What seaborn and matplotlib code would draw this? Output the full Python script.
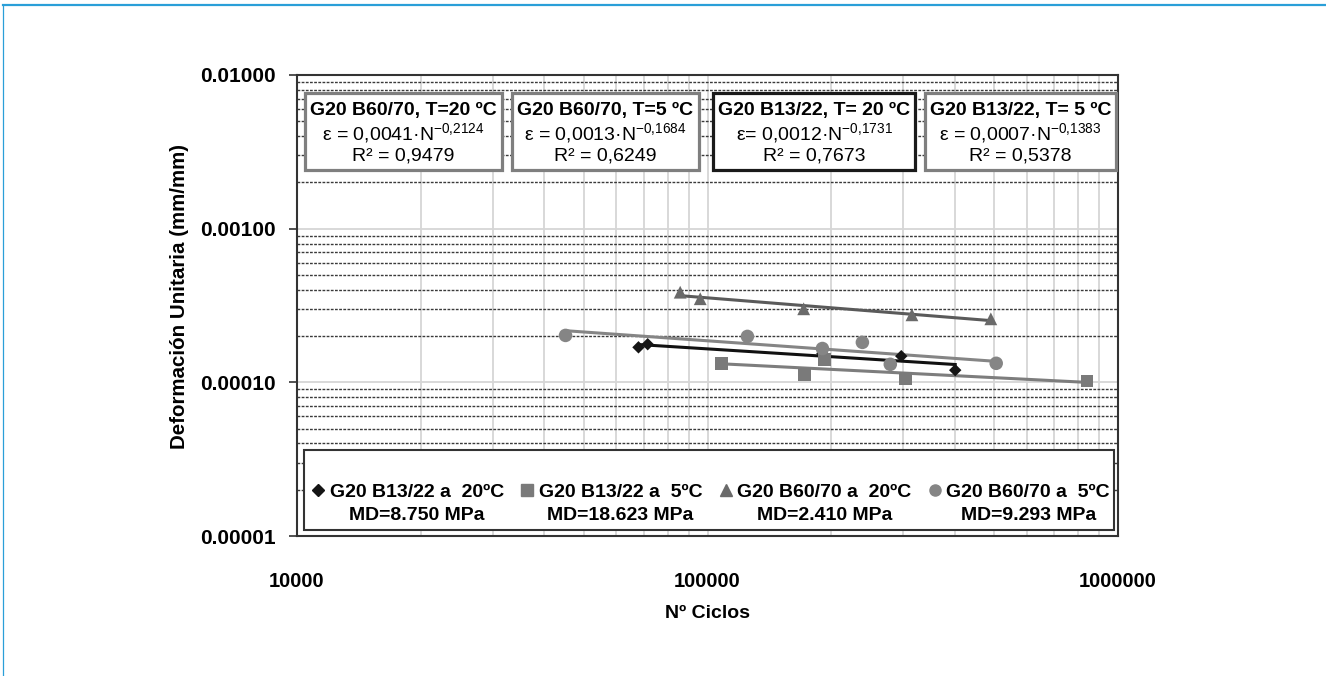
import numpy as np
import pandas as pd
import seaborn as sns
import matplotlib.pyplot as plt
from matplotlib.patches import Rectangle
from matplotlib.lines import Line2D
from matplotlib.ticker import FuncFormatter, LogLocator, NullFormatter, FixedLocator

plt.rcParams['font.family'] = ['Liberation Sans', 'DejaVu Sans']
plt.rcParams['mathtext.fontset'] = 'custom'
plt.rcParams['mathtext.rm'] = 'Liberation Sans'
plt.rcParams['mathtext.it'] = 'Liberation Sans:italic'
plt.rcParams['mathtext.bf'] = 'Liberation Sans:bold'

# values
series = ['G20 B13/22 a  20ºC', 'G20 B13/22 a  5ºC', 'G20 B60/70 a  20ºC', 'G20 B60/70 a  5ºC']
md_labels = ['MD=8.750 MPa', 'MD=18.623 MPa', 'MD=2.410 MPa', 'MD=9.293 MPa']

b1322_20_n = [67900, 71500, 190500, 296500, 401300]
b1322_20_e = [0.000169, 0.000177, 0.000154, 0.000148, 0.000120]
b1322_5_n = [108200, 172200, 192600, 303300, 840500]
b1322_5_e = [0.000133, 0.000113, 0.000141, 0.000106, 0.000102]
b6070_20_n = [85800, 96000, 171500, 314800, 490000]
b6070_20_e = [0.000386, 0.000350, 0.000301, 0.000275, 0.000259]
b6070_5_n = [45100, 125100, 190500, 238400, 278800, 505000]
b6070_5_e = [0.000202, 0.000199, 0.000166, 0.000182, 0.000131, 0.000133]

box_titles = ['G20 B60/70, T=20 ºC', 'G20 B60/70, T=5 ºC', 'G20 B13/22, T= 20 ºC', 'G20 B13/22, T= 5 ºC']
box_coef = ['ε = 0,0041·', 'ε = 0,0013·', 'ε= 0,0012·', 'ε = 0,0007·']
box_exp = ['-0{,}2124', '-0{,}1684', '-0{,}1731', '-0{,}1383']
box_r2 = ['R² = 0,9479', 'R² = 0,6249', 'R² = 0,7673', 'R² = 0,5378']

rows = []
for name, ns, es in zip(series, [b1322_20_n, b1322_5_n, b6070_20_n, b6070_5_n],
                        [b1322_20_e, b1322_5_e, b6070_20_e, b6070_5_e]):
    for n, e in zip(ns, es):
        rows.append({'serie': name, 'N': n, 'eps': e})
df = pd.DataFrame(rows)

marker_col = {series[0]: '#151515', series[1]: '#7a7a7a', series[2]: '#6a6a6a', series[3]: '#858585'}
line_col = {series[0]: '#111111', series[1]: '#7d7d7d', series[2]: '#5a5a5a', series[3]: '#858585'}
markers = {series[0]: 'D', series[1]: 's', series[2]: '^', series[3]: 'o'}
sizes = {series[0]: 40, series[1]: 85, series[2]: 85, series[3]: 95}

W, H = 1326, 676
fig = plt.figure(figsize=(W / 100, H / 100), dpi=100)
ax = fig.add_axes([297 / W, 1 - 536 / H, (1118 - 297) / W, (536 - 75) / H])
ax.set_xscale('log')
ax.set_yscale('log')

# power trend lines (least squares in log-log)
for name in series:
    d = df[df.serie == name]
    c = np.polyfit(np.log10(d.N), np.log10(d.eps), 1)
    xs = np.geomspace(d.N.min(), d.N.max(), 40)
    sns.lineplot(x=xs, y=10 ** np.polyval(c, np.log10(xs)), ax=ax, color=line_col[name],
                 lw=2.2, zorder=3, legend=False)

for name in series:
    d = df[df.serie == name]
    sns.scatterplot(data=d, x='N', y='eps', ax=ax, marker=markers[name], color=marker_col[name],
                    s=sizes[name], edgecolor='none', zorder=4, legend=False)

ax.set_xlim(1e4, 1e6)
ax.set_ylim(1e-5, 1e-2)
ax.xaxis.set_major_locator(FixedLocator([1e4, 1e5, 1e6]))
ax.yaxis.set_major_locator(FixedLocator([1e-5, 1e-4, 1e-3, 1e-2]))
ax.xaxis.set_minor_locator(LogLocator(base=10, subs=np.arange(2, 10), numticks=20))
ax.yaxis.set_minor_locator(LogLocator(base=10, subs=np.arange(2, 10), numticks=20))
ax.xaxis.set_minor_formatter(NullFormatter())
ax.yaxis.set_minor_formatter(NullFormatter())
ax.xaxis.set_major_formatter(FuncFormatter(lambda v, p: f'{v:.0f}'))
ax.yaxis.set_major_formatter(FuncFormatter(lambda v, p: f'{v:.5f}'))

ax.grid(which='major', axis='both', color='#d6d6d6', lw=1.3)
ax.grid(which='minor', axis='x', color='#d6d6d6', lw=1.3)
ax.grid(which='minor', axis='y', color='#3a3a3a', lw=1.0, linestyle=(0, (2, 1)))
ax.set_axisbelow(True)
for s in ax.spines.values():
    s.set_color('#333333')
    s.set_linewidth(1.5)
ax.tick_params(which='minor', length=0)
ax.tick_params(axis='x', which='major', length=0, pad=26, labelsize=14.5)
ax.tick_params(axis='y', which='major', length=6, width=1.2, color='#333333', pad=9, labelsize=15)
for lab in ax.get_xticklabels() + ax.get_yticklabels():
    lab.set_fontweight('bold')

ax.set_xlabel('Nº Ciclos', fontsize=14, fontweight='bold', labelpad=10)
ax.set_ylabel('Deformación Unitaria (mm/mm)', fontsize=14.8, fontweight='bold')
ax.yaxis.set_label_coords(-0.131, 0.52)

# equation boxes
box_x = [(305, 502), (512, 699), (713, 915), (925, 1116)]
box_edge = ['#7f7f7f', '#7f7f7f', '#1a1a1a', '#7f7f7f']
for (x0, x1), ec, t1, cf, ex, r2 in zip(box_x, box_edge, box_titles, box_coef, box_exp, box_r2):
    fig.add_artist(Rectangle((x0 / W, 1 - 170 / H), (x1 - x0) / W, 77 / H, transform=fig.transFigure,
                             facecolor='white', edgecolor=ec, lw=2.3, zorder=5))
    cx = (x0 + x1) / 2 / W
    fig.text(cx, 1 - 110 / H, t1, ha='center', va='center', fontsize=14, fontweight='bold', zorder=6)
    fig.text(cx, 1 - 133 / H, cf + r'$\mathrm{N}^{' + ex + '}$', ha='center', va='center',
             fontsize=14, zorder=6)
    fig.text(cx, 1 - 156 / H, r2, ha='center', va='center', fontsize=14, zorder=6)

# legend box
fig.add_artist(Rectangle((304 / W, 1 - 530 / H), 810 / W, 80 / H, transform=fig.transFigure,
                         facecolor='white', edgecolor='#333333', lw=1.5, zorder=5))
handles = [Line2D([], [], ls='none', marker=markers[n], color=marker_col[n],
                  markersize=6 if markers[n] == 'D' else 8) for n in series]
leg = fig.legend(handles, series, ncol=4, loc='center',
                 bbox_to_anchor=(312 / W, 1 - 500 / H, 798 / W, 16 / H), bbox_transform=fig.transFigure,
                 mode='expand', borderaxespad=0, frameon=False,
                 prop={'weight': 'bold', 'size': 14}, handlelength=0.6, handletextpad=0.3,
                 columnspacing=0.5, borderpad=0.0)
leg.set_zorder(7)

fig.canvas.draw()
r = fig.canvas.get_renderer()
for t, md in zip(leg.get_texts(), md_labels):
    bb = t.get_window_extent(r)
    fig.text((bb.x0 + bb.x1) / 2 / fig.bbox.width, 1 - 515 / H, md, ha='center', va='center',
             fontsize=14, fontweight='bold', zorder=8)

# blue page frame
fig.add_artist(Line2D([3 / W, 1], [1 - 5 / H, 1 - 5 / H], color='#2a9fd8', lw=1.6, transform=fig.transFigure))
fig.add_artist(Line2D([3 / W, 3 / W], [0, 1 - 5 / H], color='#2a9fd8', lw=0.9, transform=fig.transFigure))

fig.savefig('out.png', dpi=100)
